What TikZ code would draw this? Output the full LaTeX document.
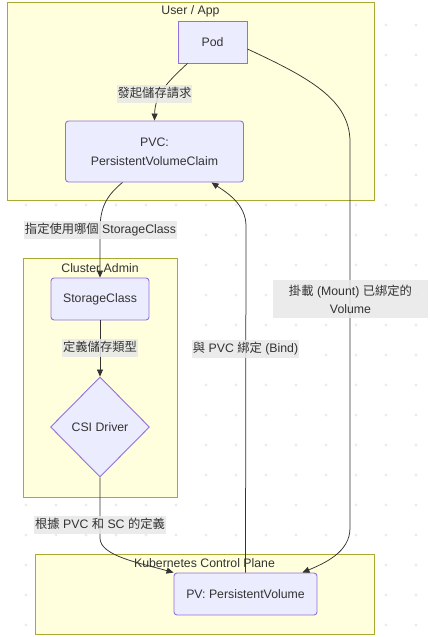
\documentclass[tikz,border=0pt]{standalone}
\usepackage{fontspec}
\setmainfont{Liberation Sans}
\newfontfamily\cjk{Noto Sans CJK TC}
\usetikzlibrary{arrows.meta,shapes.geometric}
\definecolor{nodefill}{HTML}{ECECFF}
\definecolor{nodedraw}{HTML}{9370DB}
\definecolor{clfill}{HTML}{FFFFDE}
\definecolor{cldraw}{HTML}{AAAA33}
\definecolor{lblfill}{HTML}{E8E8E8}
\definecolor{txt}{HTML}{333333}
\definecolor{dotc}{HTML}{EBEBEB}
\tikzset{
  cluster/.style={draw=cldraw,fill=clfill,line width=0.9pt,inner sep=0pt},
  cltitle/.style={text=txt,font=\fontsize{12.3}{15}\selectfont,inner sep=0pt},
  box/.style={draw=nodedraw,fill=nodefill,line width=0.9pt,text=txt,
    font=\fontsize{12.3}{19}\selectfont,align=center,inner sep=0pt},
  rbox/.style={box,rounded corners=3pt},
  dia/.style={box,diamond,aspect=1},
  edge/.style={draw=txt,line width=0.75pt,-{Triangle[length=7pt,width=6pt]}},
  lbl/.style={fill=lblfill,fill opacity=0.85,text opacity=1,text=txt,
    font=\fontsize{12.3}{18}\selectfont,inner xsep=1pt,inner ysep=2.5pt,
    text height=10pt,text depth=3pt,align=center},
}
\begin{document}
\begin{tikzpicture}[x=1pt,y=-1pt]
\useasboundingbox (0,0) rectangle (430,637);
\fill[white] (0,0) rectangle (430,637);
% dot grid
\foreach \i in {0,...,13}{\foreach \j in {0,...,20}{
  \fill[dotc] (26+30*\i,25+30*\j) circle (1.6);}}
% clusters
\node[cluster,minimum width=367,minimum height=198] (cuser) at (190.5,101) {};
\node[cluster,minimum width=154,minimum height=239] (cadmin) at (100,377.5) {};
\node[cluster,minimum width=339,minimum height=80] (ck8s) at (204.5,594) {};
\node[cltitle] (tuser) at (190.5,11) {User / App};
\node[cltitle] (tadmin) at (100,268) {Cluster Admin};
\node[cltitle] (tk8s) at (204.5,563) {Kubernetes Control Plane};
% nodes
\node[box,minimum width=69,minimum height=42] (pod) at (212.5,42) {Pod};
\node[rbox,minimum width=178,minimum height=61] (pvc) at (154.5,151.5) {PVC:\\PersistentVolumeClaim};
\node[rbox,minimum width=98,minimum height=42] (sc) at (100,299) {StorageClass};
\node[dia,minimum width=99,minimum height=100] (csi) at (100,427) {CSI Driver};
\node[rbox,minimum width=143,minimum height=42] (pv) at (245.5,594) {PV: PersistentVolume};
% edges
\draw[edge] ([xshift=-25pt]pod.south) .. controls (165,84) and (155,96) .. (pvc.north);
\draw[edge] ([xshift=-32pt]pvc.south) .. controls (106,196) and (100,208) .. (100,230) -- (sc.north);
\draw[edge] (sc.south) -- (csi.north);
\draw[edge] (csi.south) -- (100,538) .. controls (100,556) and (140,563) .. (pv.north west);
\draw[edge] (pv.north) -- (246,226) .. controls (246,204) and (226,192) .. ([xshift=57pt]pvc.south);
\draw[edge] ([yshift=-7pt]pod.east) .. controls (310,78) and (350,100) .. (350,142) -- (350,528) .. controls (350,552) and (325,563) .. ([xshift=-15pt]pv.north east);
% edge labels
\node[lbl] (l1) at (154.5,93.5) {\cjk 發起儲存請求};
\node[lbl] (l2) at (100.5,230) {{\cjk 指定使用哪個} StorageClass};
\node[lbl] (l3) at (100,348) {\cjk 定義儲存類型};
\node[lbl] (l4) at (100,525) {{\cjk 根據} PVC {\cjk 和} SC {\cjk 的定義}};
\node[lbl] (l5) at (245.5,349) {{\cjk 與} PVC {\cjk 綁定} (Bind)};
\node[lbl,text height=,text depth=,minimum width=155,minimum height=38,inner ysep=0pt] (l6) at (350.5,299) {{\cjk 掛載} (Mount) {\cjk 已綁定的}\\Volume};
\end{tikzpicture}
\end{document}
